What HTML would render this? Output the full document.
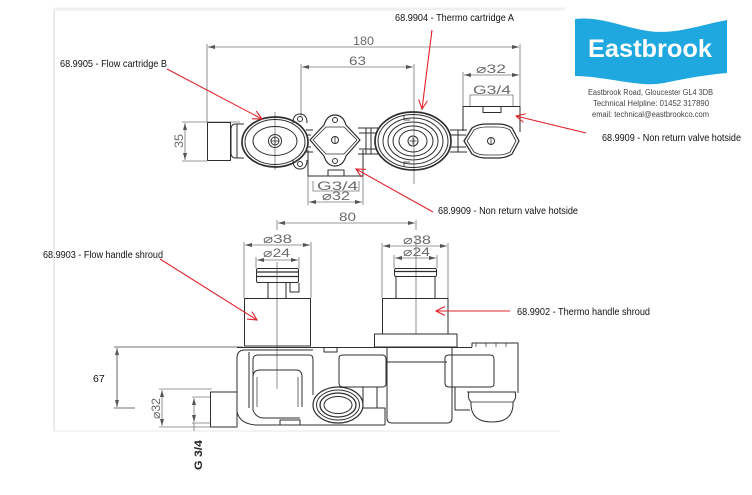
<!DOCTYPE html>
<html>
<head>
<meta charset="utf-8">
<style>
html,body{margin:0;padding:0;background:#fff;}
svg{display:block;}
.lbl{font-family:"Liberation Sans",Arial,sans-serif;font-size:10.5px;fill:#111;}
.dim{font-family:"Liberation Sans",Arial,sans-serif;font-size:12px;fill:#6a6a6a;}
</style>
</head>
<body>
<svg width="752" height="495" viewBox="0 0 752 495" xmlns="http://www.w3.org/2000/svg">
<defs>
  <marker id="ra" markerUnits="userSpaceOnUse" markerWidth="12" markerHeight="12" refX="9" refY="4.5" orient="auto">
    <path d="M0,0 L9,4.5 L0,9" fill="none" stroke="#e0242b" stroke-width="1.1"/>
  </marker>
  <marker id="da" markerUnits="userSpaceOnUse" markerWidth="10" markerHeight="6" refX="7" refY="2" orient="auto-start-reverse">
    <path d="M0,0 L7,2 L0,4 z" fill="#555"/>
  </marker>
</defs>

<!-- faint scan frame -->
<rect x="0" y="0" width="752" height="495" fill="#fff"/>
<line x1="54" y1="9" x2="54" y2="431" stroke="#ececec" stroke-width="2"/>
<line x1="54" y1="9" x2="565" y2="9" stroke="#efefef" stroke-width="3"/>
<line x1="54" y1="431" x2="560" y2="431" stroke="#f3f3f3" stroke-width="2"/>

<!-- ================= TOP VIEW ================= -->
<g fill="none" stroke="#777" stroke-width="0.8">
  <!-- 180 -->
  <line x1="207" y1="44" x2="207" y2="122"/>
  <line x1="520" y1="44" x2="520" y2="106"/>
  <line x1="208" y1="47" x2="519" y2="47" marker-start="url(#da)" marker-end="url(#da)"/>
  <!-- 63 -->
  <line x1="301" y1="64" x2="301" y2="116"/>
  <line x1="414" y1="64" x2="414" y2="184"/>
  <line x1="302" y1="67" x2="413" y2="67" marker-start="url(#da)" marker-end="url(#da)"/>
  <!-- dia32 top right -->
  <line x1="463" y1="72" x2="463" y2="106"/>
  <line x1="464" y1="75" x2="519" y2="75" marker-start="url(#da)" marker-end="url(#da)"/>
  <!-- G3/4 top right bracket -->
  <path d="M470,106 V95 H513 V106"/>
  <!-- 35 -->
  <line x1="182" y1="122" x2="240" y2="122"/>
  <line x1="182" y1="161" x2="207" y2="161"/>
  <line x1="185" y1="123" x2="185" y2="160" marker-start="url(#da)" marker-end="url(#da)"/>
  <!-- lower G3/4 & dia32 -->
  <line x1="308" y1="176" x2="308" y2="205"/>
  <line x1="363" y1="176" x2="363" y2="205"/>
  <path d="M313,181 V191 H359 V181"/>
  <line x1="309" y1="202" x2="362" y2="202" marker-start="url(#da)" marker-end="url(#da)"/>
  <!-- centerline flow cartridge -->
  <line x1="275" y1="112" x2="275" y2="170"/>
</g>
<g class="dim">
  <text x="353" y="45" textLength="21" lengthAdjust="spacingAndGlyphs">180</text>
  <text x="349" y="65" textLength="17" lengthAdjust="spacingAndGlyphs">63</text>
  <text x="476" y="73" textLength="30" lengthAdjust="spacingAndGlyphs">⌀32</text>
  <text x="473" y="94" textLength="38" lengthAdjust="spacingAndGlyphs">G3/4</text>
  <text x="317" y="190" textLength="41" lengthAdjust="spacingAndGlyphs">G3/4</text>
  <text x="322" y="200" textLength="28" lengthAdjust="spacingAndGlyphs">⌀32</text>
  <text transform="translate(183,148) rotate(-90)" textLength="14" lengthAdjust="spacingAndGlyphs">35</text>
</g>

<g fill="none" stroke="#2e2e2e" stroke-width="1" stroke-linejoin="round">
  <!-- left end piece -->
  <rect x="207.5" y="122.5" width="23" height="38"/>
  <path d="M244,124 H236 Q231,124 231,129 V153 Q231,158 236,158 H244"/>
  <line x1="237" y1="124" x2="237" y2="158"/>
  <!-- flow cartridge B -->
  <ellipse cx="275" cy="142" rx="33" ry="25" stroke-width="1.7"/>
  <ellipse cx="275" cy="142" rx="30" ry="22.5"/>
  <ellipse cx="275" cy="141" rx="22" ry="14.5"/>
  <circle cx="275" cy="141" r="6.5"/>
  <circle cx="275" cy="141" r="4"/>
  <path d="M271.5,141 H278.5 M275,137.5 V144.5" stroke-width="0.8"/>
  <!-- lugs near flow cartridge -->
  <path d="M293,123 Q293,114 300,114 Q307,114 307,123"/>
  <circle cx="300" cy="119" r="2.5"/>
  <path d="M293,160 Q293,169 300,169 Q307,169 307,160"/>
  <circle cx="300" cy="164" r="2.5"/>
  <path d="M306,130 H313 M306,152 H313 M307,135 H311 M307,147 H311"/>
  <!-- middle hex body -->
  <path d="M310,140 L324,125 Q327,115 335,115 Q343,115 346,125 L360,140 L346,156 Q343,166 335,166 Q327,166 324,156 Z" stroke-width="1.2"/>
  <path d="M313,140 L326,127 L344,127 L357,140 L344,154 L326,154 Z" stroke-width="0.8"/>
  <circle cx="335" cy="120" r="2.5"/>
  <circle cx="335" cy="161" r="2.5"/>
  <circle cx="335" cy="140" r="3.5"/>
  <line x1="335" y1="136" x2="335" y2="144" stroke-width="0.8"/>
  <!-- box below middle hex -->
  <path d="M308,150 V176 H363 V150"/>
  <rect x="328" y="170" width="16" height="6"/>
  <!-- pipe hex -> thermo -->
  <path d="M358,128 H378 M359,133 H376 M359,149 H376 M358,154 H378 M366,128 V154 M371,128 V154"/>
  <!-- thermo cartridge A -->
  <ellipse cx="413" cy="141" rx="38" ry="29" stroke-width="1.7"/>
  <ellipse cx="413" cy="141" rx="35" ry="26.5"/>
  <ellipse cx="413" cy="141" rx="30" ry="23"/>
  <ellipse cx="413" cy="141" rx="25" ry="19"/>
  <ellipse cx="413" cy="141" rx="20" ry="15"/>
  <ellipse cx="413" cy="141" rx="14" ry="11"/>
  <circle cx="413" cy="141" r="5"/>
  <path d="M409.5,141 H416.5 M413,137.5 V144.5" stroke-width="0.8"/>
  <path d="M404,116 V120 H410 M404,166 V162 H410" stroke-width="0.8"/>
  <!-- pipe thermo -> right hex -->
  <path d="M450,130 H467 M450,135 H466 M450,147 H466 M450,152 H467 M458,130 V152"/>
  <!-- top box of right valve -->
  <path d="M463,131 V106.5 H520 V132"/>
  <rect x="483" y="106.5" width="18" height="6"/>
  <!-- right hex -->
  <path d="M464,141 L472,128 Q478,124 486,124 H498 Q506,124 512,128 L519,141 L512,154 Q506,158 498,158 H486 Q478,158 472,154 Z" stroke-width="1.3"/>
  <path d="M467,141 L474,130 Q479,127 486,127 H498 Q505,127 510,130 L516,141 L510,152 Q505,155 498,155 H486 Q479,155 474,152 Z" stroke-width="0.8"/>
  <circle cx="491" cy="141" r="3.5"/>
  <line x1="491" y1="137" x2="491" y2="145" stroke-width="0.8"/>
</g>

<!-- ================= FRONT VIEW ================= -->
<g fill="none" stroke="#777" stroke-width="0.8">
  <!-- 80 -->
  <line x1="277" y1="220" x2="277" y2="230"/>
  <line x1="416" y1="220" x2="416" y2="230"/>
  <line x1="278" y1="223" x2="415" y2="223" marker-start="url(#da)" marker-end="url(#da)"/>
  <!-- left dia38 / dia24 -->
  <line x1="244" y1="242" x2="244" y2="298"/>
  <line x1="311" y1="242" x2="311" y2="298"/>
  <line x1="245" y1="245" x2="310" y2="245" marker-start="url(#da)" marker-end="url(#da)"/>
  <line x1="256" y1="257" x2="256" y2="268"/>
  <line x1="299" y1="257" x2="299" y2="268"/>
  <line x1="257" y1="260" x2="298" y2="260" marker-start="url(#da)" marker-end="url(#da)"/>
  <!-- right dia38 / dia24 -->
  <line x1="382" y1="243" x2="382" y2="298"/>
  <line x1="448" y1="243" x2="448" y2="298"/>
  <line x1="383" y1="246" x2="447" y2="246" marker-start="url(#da)" marker-end="url(#da)"/>
  <line x1="394" y1="255" x2="394" y2="268"/>
  <line x1="437" y1="255" x2="437" y2="268"/>
  <line x1="395" y1="258" x2="436" y2="258" marker-start="url(#da)" marker-end="url(#da)"/>
  <!-- centerlines -->
  <line x1="277" y1="262" x2="277" y2="389"/>
  <line x1="416" y1="237" x2="416" y2="334"/>
  <!-- 67 -->
  <line x1="114" y1="347" x2="243" y2="347" stroke="#444"/>
  <line x1="114" y1="408" x2="135" y2="408" stroke="#444"/>
  <line x1="117" y1="348" x2="117" y2="407" stroke="#444" marker-start="url(#da)" marker-end="url(#da)"/>
  <!-- dia32 vertical -->
  <line x1="159" y1="389" x2="212" y2="389"/>
  <line x1="159" y1="427" x2="212" y2="427"/>
  <line x1="162" y1="390" x2="162" y2="426" marker-start="url(#da)" marker-end="url(#da)"/>
  <!-- G3/4 vertical -->
  <line x1="192" y1="397" x2="211" y2="397"/>
  <line x1="192" y1="423" x2="211" y2="423"/>
  <line x1="194" y1="398" x2="194" y2="422" marker-start="url(#da)" marker-end="url(#da)"/>
  <line x1="194" y1="423" x2="194" y2="431"/>
</g>
<g class="dim">
  <text x="339" y="221" textLength="17" lengthAdjust="spacingAndGlyphs">80</text>
  <text x="263" y="243" textLength="29" lengthAdjust="spacingAndGlyphs">⌀38</text>
  <text x="263" y="257" textLength="27" lengthAdjust="spacingAndGlyphs">⌀24</text>
  <text x="403" y="244" textLength="28" lengthAdjust="spacingAndGlyphs">⌀38</text>
  <text x="403" y="256" textLength="27" lengthAdjust="spacingAndGlyphs">⌀24</text>
  <text transform="translate(160,419) rotate(-90)" textLength="21" lengthAdjust="spacingAndGlyphs">⌀32</text>
</g>
<text x="93" y="382" font-family="Liberation Sans, Arial, sans-serif" font-size="10.5" fill="#111">67</text>
<text transform="translate(202,470) rotate(-90)" font-family="Liberation Sans, Arial, sans-serif" font-size="11" font-weight="bold" fill="#222" textLength="30" lengthAdjust="spacingAndGlyphs">G 3/4</text>

<g fill="none" stroke="#2e2e2e" stroke-width="1" stroke-linejoin="round">
  <!-- left handle -->
  <rect x="256.5" y="268.5" width="42" height="14" rx="1.5"/>
  <path d="M257,272 H298 M257,276.5 H298" stroke-width="1.3"/>
  <path d="M268,283 V298 M286,283 V298"/>
  <path d="M290,283 V292 H299 V283"/>
  <rect x="244.5" y="298.5" width="66" height="47.5"/>
  <!-- right handle -->
  <rect x="394.5" y="268.5" width="42" height="8" rx="1.5"/>
  <path d="M395,271.5 H436" stroke-width="1.3"/>
  <path d="M396,276.5 V298 M435,276.5 V298"/>
  <rect x="382.5" y="298.5" width="65.5" height="35.5"/>
  <rect x="374.5" y="334" width="82.5" height="13"/>
  <!-- body top line -->
  <line x1="237" y1="347.5" x2="472" y2="347.5"/>
  <!-- left stub -->
  <rect x="210.5" y="392" width="26.5" height="35"/>
  <!-- left flow body -->
  <path d="M237,412 V358 Q237,350 245,350 H313"/>
  <path d="M249,352 V408"/>
  <path d="M253,410 V360 Q253,355 258,355 H310 Q313,355 313,360 V395"/>
  <path d="M253,407 V377 Q253,370 260,370 H296 Q302,370 302,377 V407"/>
  <path d="M257,377 V407 M298,377 V407" stroke-width="0.7"/>
  <!-- bottom contour -->
  <path d="M237,412 Q240,424 256,425 H385"/>
  <path d="M253,410 Q256,418 264,418 H300"/>
  <path d="M280,425 V420 H300 V425"/>
  <!-- notch on top -->
  <path d="M324,347 V352 H337 V347"/>
  <!-- middle cold inlet oval -->
  <ellipse cx="338" cy="405" rx="25" ry="18" stroke-width="1.2"/>
  <ellipse cx="338" cy="405" rx="21.5" ry="15"/>
  <ellipse cx="338" cy="405" rx="18" ry="12" stroke-width="1.3"/>
  <ellipse cx="338" cy="405" rx="14" ry="8.5"/>
  <!-- left wing of thermo body -->
  <path d="M339,358 Q339,355 343,355 H382 Q386,355 386,359 V384 Q386,387 382,387 H343 Q339,387 339,383 Z"/>
  <path d="M363,387 V408 M377,387 V408 M363,408 H385 V425"/>
  <!-- central column -->
  <path d="M387,347 V418 Q387,423 392,423 H447 Q452,423 452,418 V347"/>
  <line x1="387" y1="362" x2="447" y2="362"/>
  <!-- right wing -->
  <path d="M445,358 Q445,355 449,355 H490 Q494,355 494,359 V384 Q494,387 490,387 H449 Q445,387 445,383 Z"/>
  <path d="M455,387 V410 H470"/>
  <!-- right tall part -->
  <path d="M472,347 V343 H518 V393"/>
  <path d="M476,343 V347 M486,343 V347 M496,343 V347 M506,343 V347" stroke-width="0.7"/>
  <!-- right dome -->
  <path d="M467,392 H516 M469,392 Q467,398 471,402 Q470,422 492,422 Q514,422 513,402 Q517,398 515,392"/>
  <path d="M471,402 H513" stroke-width="0.7"/>
</g>

<!-- ================= RED CALLOUTS ================= -->
<g stroke="#e0242b" stroke-width="1.1" fill="none">
  <line x1="167" y1="69" x2="262" y2="119" marker-end="url(#ra)"/>
  <line x1="432" y1="30" x2="422" y2="109" marker-end="url(#ra)"/>
  <line x1="586" y1="133" x2="516" y2="116" marker-end="url(#ra)"/>
  <line x1="433" y1="212" x2="356" y2="169" marker-end="url(#ra)"/>
  <line x1="160" y1="259" x2="257" y2="320" marker-end="url(#ra)"/>
  <line x1="510" y1="311" x2="436" y2="311" marker-end="url(#ra)"/>
</g>
<g class="lbl">
  <text x="60" y="67" textLength="107" lengthAdjust="spacingAndGlyphs">68.9905 - Flow cartridge B</text>
  <text x="395" y="21" textLength="119" lengthAdjust="spacingAndGlyphs">68.9904 - Thermo cartridge A</text>
  <text x="602" y="141" textLength="139" lengthAdjust="spacingAndGlyphs">68.9909 - Non return valve hotside</text>
  <text x="438" y="214" textLength="140" lengthAdjust="spacingAndGlyphs">68.9909 - Non return valve hotside</text>
  <text x="43" y="258" textLength="120" lengthAdjust="spacingAndGlyphs">68.9903 - Flow handle shroud</text>
  <text x="517" y="315" textLength="133" lengthAdjust="spacingAndGlyphs">68.9902 - Thermo handle shroud</text>
</g>

<!-- ================= LOGO ================= -->
<path d="M575,19 C600,16 622,27 648,31 C675,35 700,25 727,20 L727,73 C705,75 688,78 664,83 C640,88 605,76 575,76 Z" fill="#1fa8e0"/>
<text x="588" y="57" font-family="Liberation Sans, Arial, sans-serif" font-size="25" font-weight="bold" fill="#fff" textLength="124" lengthAdjust="spacingAndGlyphs">Eastbrook</text>
<g font-family="Liberation Sans, Arial, sans-serif" font-size="8" fill="#444">
  <text x="588" y="95" textLength="125" lengthAdjust="spacingAndGlyphs">Eastbrook Road, Gloucester GL4 3DB</text>
  <text x="593" y="106" textLength="116" lengthAdjust="spacingAndGlyphs">Technical Helpline: 01452 317890</text>
  <text x="592" y="117" textLength="117" lengthAdjust="spacingAndGlyphs">email: technical@eastbrookco.com</text>
</g>
</svg>
</body>
</html>
